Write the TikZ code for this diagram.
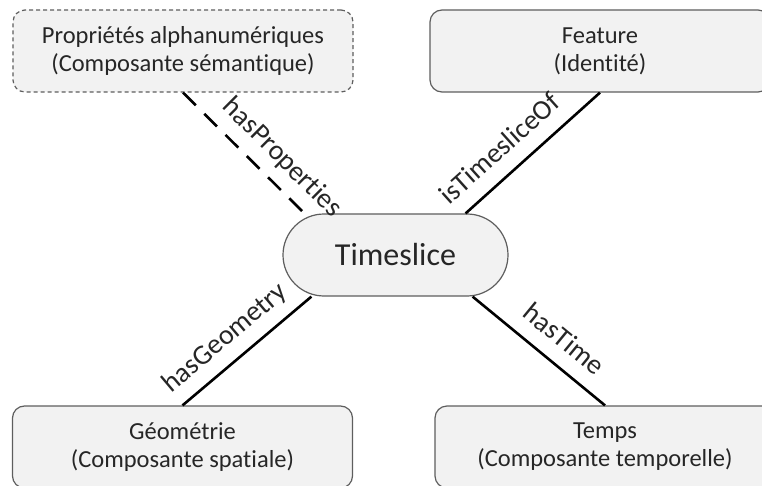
\documentclass[tikz,border=0pt]{standalone}
\usepackage{fontspec}
\setmainfont{Carlito}[Ligatures=NoCommon]
\usepackage{tikz}
\usetikzlibrary{shapes,arrows,positioning}

\definecolor{boxfill}{HTML}{F2F2F2}
\definecolor{boxline}{HTML}{5E5E5E}
\definecolor{txt}{HTML}{262626}

\begin{document}
\begin{tikzpicture}[x=1pt,y=-1pt,auto,
  box/.style={draw=boxline,line width=1.2pt,fill=boxfill,rounded corners=12pt,
    minimum width=340pt,minimum height=82pt,inner sep=0pt,align=center,
    text=txt,font=\fontsize{24.5}{28}\selectfont},
  link/.style={line width=2.6pt,black},
  lbl/.style={sloped,above,text=txt,inner sep=9pt,text depth=6pt,font=\fontsize{28}{32}\selectfont}]
  \useasboundingbox (0,0) rectangle (762,486);
  \clip (0,0) rectangle (762,486);
  \node[box,rounded corners=41pt,minimum width=225pt,font=\fontsize{32}{36}\selectfont] (A) at (395.5,255) {Timeslice};
  \node[box,dashed,dash pattern=on 4pt off 3pt] (B) at (183,51) {Propriétés alphanumériques\\(Composante sémantique)};
  \node[box] (C) at (600,51) {Feature\\(Identité)};
  \node[box] (D) at (182.5,447) {Géométrie\\(Composante spatiale)};
  \node[box] (E) at (605,447) {Temps\\(Composante temporelle)};
  \draw[link,dash pattern=on 18pt off 12pt] (B.south) -- node[lbl,pos=0.68] {hasProperties} ([xshift=22pt]A.north west);
  \draw[link] ([xshift=-43pt]A.north east) -- node[lbl,pos=0.38] {isTimesliceOf} (C.south);
  \draw[link] (D.north) -- node[lbl,pos=0.45] {hasGeometry} ([xshift=29pt]A.south west);
  \draw[link] ([xshift=-36pt]A.south east) -- node[lbl,pos=0.57] {hasTime} (E.north);
\end{tikzpicture}
\end{document}
